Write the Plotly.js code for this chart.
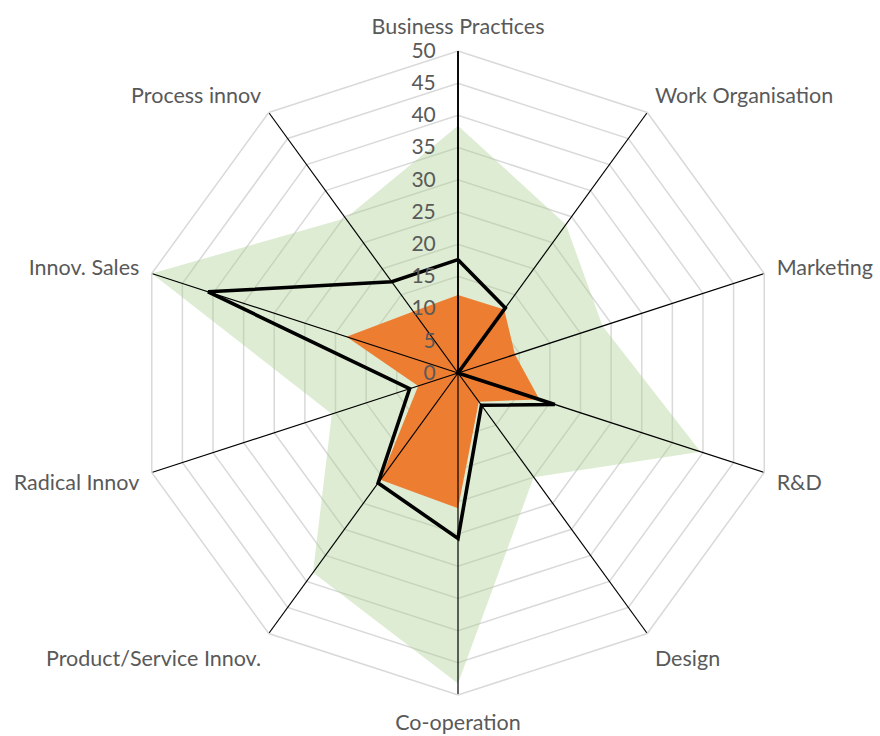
<!DOCTYPE html>
<html>
<head>
<meta charset="utf-8">
<script src="https://cdn.plot.ly/plotly-3.0.1.min.js"></script>
<style>html,body{margin:0;padding:0;background:#fff;}#chart{width:880px;height:736px;}</style>
</head>
<body>
<div id="chart"></div>
<script>
const categories = ["Business Practices","Work Organisation","Marketing","R&D","Design","Co-operation","Product/Service Innov.","Radical Innov","Innov. Sales","Process innov"];
const greenValues = [38.4, 28.5, 23.6, 39.6, 20.0, 48.2, 38.3, 20.6, 50.0, 29.7];
const orangeValues = [12.1, 12.2, 9.3, 13.3, 5.5, 21.0, 20.5, 6.5, 18.2, 11.8];
const blackValues = [17.6, 12.5, 0.0, 15.8, 6.2, 25.7, 21.1, 7.9, 40.8, 17.5];
const radialTicks = [0, 5, 10, 15, 20, 25, 30, 35, 40, 45, 50];
const rMax = 50;

function closed(arr){ return arr.concat([arr[0]]); }

const spokeR = [], spokeT = [];
categories.forEach(c => { spokeR.push(0, rMax, null); spokeT.push(c, c, c); });

const traces = [
  {type:'scatterpolar', r: closed(greenValues), theta: closed(categories), mode:'none', fill:'toself',
   fillcolor:'rgba(169,208,142,0.4)', hoverinfo:'skip', showlegend:false},
  {type:'scatterpolar', r: closed(orangeValues), theta: closed(categories), mode:'none', fill:'toself',
   fillcolor:'#ED7D31', hoverinfo:'skip', showlegend:false},
  {type:'scatterpolar', r: spokeR, theta: spokeT, mode:'lines', line:{color:'#000', width:1.2},
   connectgaps:false, hoverinfo:'skip', showlegend:false},
  {type:'scatterpolar', r: closed(blackValues), theta: closed(categories), mode:'lines',
   line:{color:'#000', width:3.6}, hoverinfo:'skip', showlegend:false}
];

const layout = {
  width: 880, height: 736,
  margin: {l:0, r:0, t:0, b:0},
  paper_bgcolor:'#fff',
  showlegend:false,
  font:{family:'Lato, "Open Sans", sans-serif', color:'#595959', size:20},
  polar: {
    domain: {x:[136/880, 780/880], y:[41/736, 685/736]},
    bgcolor:'rgba(0,0,0,0)',
    gridshape:'linear',
    angularaxis: {
      type:'category', categoryarray: categories, rotation:90, direction:'clockwise',
      showgrid:false, showline:true, linecolor:'#d9d9d9', linewidth:1.5,
      ticks:'outside', ticklen:8, tickcolor:'rgba(0,0,0,0)',
      tickfont:{size:21.5, color:'#595959', family:'Lato, sans-serif'}
    },
    radialaxis: {
      range:[0, rMax], angle:90, tickangle:90, tickvals: radialTicks, ticktext: radialTicks.map(String),
      showgrid:true, gridcolor:'#d9d9d9', gridwidth:1.5,
      showline:true, linecolor:'#000', linewidth:1.8, layer:'above traces',
      ticks:'outside', ticklen:14, tickcolor:'rgba(0,0,0,0)', side:'counterclockwise',
      tickfont:{size:21, color:'#595959', family:'Lato, sans-serif'}
    }
  }
};

Plotly.newPlot('chart', traces, layout, {displayModeBar:false, staticPlot:true});
</script>
</body>
</html>
